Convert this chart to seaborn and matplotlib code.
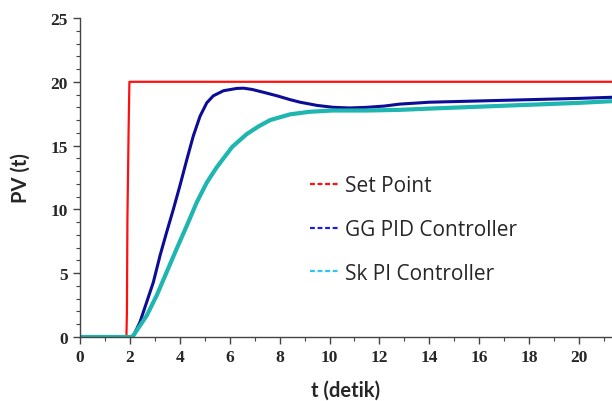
import pandas as pd
import matplotlib.pyplot as plt
import seaborn as sns
from matplotlib.lines import Line2D
from matplotlib.ticker import MultipleLocator

# Set point step
t_sp = [0, 1.86, 1.88, 1.90, 1.95, 1.98, 21.5]
pv_sp = [0, 0, 1.9, 9.2, 16.5, 20, 20]

# GG PID controller response
t_pid = [0, 2.0, 2.14, 2.4, 2.67, 2.94, 3.21, 3.47, 3.74, 4.01, 4.28, 4.54, 4.81,
         5.08, 5.34, 5.75, 6.28, 6.55, 6.9, 7.35, 7.9, 8.42, 8.82, 9.5, 10.15, 10.8,
         11.5, 12.2, 12.8, 14, 16, 18, 20, 21.5]
pv_pid = [0, 0, 0.1, 1.15, 2.72, 4.3, 6.4, 8.2, 10.0, 11.9, 13.9, 15.75, 17.3,
          18.35, 18.9, 19.3, 19.48, 19.5, 19.4, 19.18, 18.9, 18.6, 18.4, 18.15, 18.0, 17.95,
          18.0, 18.1, 18.25, 18.4, 18.5, 18.6, 18.7, 18.8]

# Sk PI controller response
t_pi = [0, 2.1, 2.27, 2.67, 3.07, 3.47, 3.87, 4.28, 4.68, 5.08, 5.48, 5.75, 6.1,
        6.68, 7.15, 7.62, 8.42, 9.2, 10.1, 11.5, 12.8, 14, 16, 18, 20, 21.5]
pv_pi = [0, 0, 0.5, 1.67, 3.24, 5.07, 6.9, 8.72, 10.56, 12.1, 13.3, 14.0, 14.9,
         15.9, 16.5, 17.0, 17.45, 17.65, 17.75, 17.75, 17.8, 17.9, 18.05, 18.2, 18.35, 18.5]

sp = pd.DataFrame({"t": t_sp, "pv": pv_sp})
pid = pd.DataFrame({"t": t_pid, "pv": pv_pid})
pi = pd.DataFrame({"t": t_pi, "pv": pv_pi})

sns.set_style("ticks")
plt.rcParams['font.family'] = ['Liberation Serif', 'DejaVu Serif']
plt.rcParams['lines.solid_joinstyle'] = 'round'

fig = plt.figure(figsize=(6.12, 4.02), dpi=100)
ax = fig.add_axes([80 / 612, 64 / 402, 1 - 80 / 612, 319 / 402])

sns.lineplot(data=sp, x="t", y="pv", ax=ax, color="#ff1010", linewidth=1.6,
             estimator=None, sort=False)
sns.lineplot(data=pid, x="t", y="pv", ax=ax, color="#0c0c96", linewidth=2.2,
             estimator=None, sort=False)
sns.lineplot(data=pi, x="t", y="pv", ax=ax, color="#1fb5b0", linewidth=3.0,
             estimator=None, sort=False)

ax.set_xlim(0, 21.32)
ax.set_ylim(0, 25)
ax.xaxis.set_major_locator(MultipleLocator(2))
ax.xaxis.set_minor_locator(MultipleLocator(1))
ax.yaxis.set_major_locator(MultipleLocator(5))
ax.yaxis.set_minor_locator(MultipleLocator(1))
ax.tick_params(which="major", length=5, width=1, color="#444444", labelsize=12.5, pad=4)
ax.tick_params(which="minor", length=3, width=0.8, color="#444444")
for lab in ax.get_xticklabels() + ax.get_yticklabels():
    lab.set_fontweight("bold")

sns.despine(ax=ax)
for s in ["left", "bottom"]:
    ax.spines[s].set_color("#444444")
    ax.spines[s].set_linewidth(1)

ax.set_xlabel("t (detik)", family="Lato", fontweight="bold", fontsize=14.5, labelpad=10)
ax.set_ylabel("PV (t)", family="Lato", fontweight="bold", fontsize=14.5, labelpad=14)

handles = [Line2D([], [], color="#ff1010", linestyle="--", dashes=(2.2, 1.2), linewidth=1.6),
           Line2D([], [], color="#2020d8", linestyle="--", dashes=(2.2, 1.2), linewidth=1.6),
           Line2D([], [], color="#30c4f0", linestyle="--", dashes=(2.2, 1.2), linewidth=1.6)]
ax.legend(handles, ["Set Point", "GG PID Controller", "Sk PI Controller"],
          loc="upper left", bbox_to_anchor=(0.397, 0.567), frameon=False,
          prop={"family": "Open Sans", "size": 15}, handlelength=1.45,
          handletextpad=0.25, labelspacing=1.1)

fig.savefig("out.png", dpi=100)
